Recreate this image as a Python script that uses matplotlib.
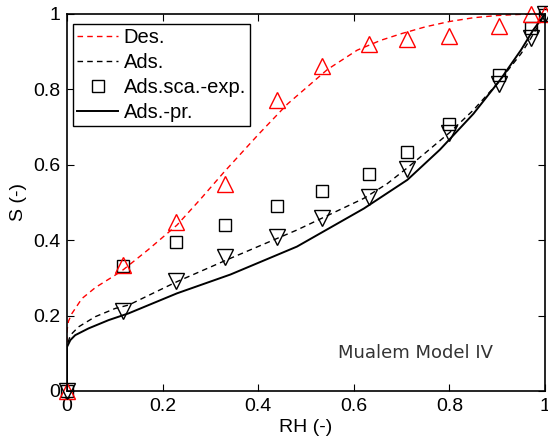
import matplotlib
matplotlib.use("Agg")
import matplotlib.pyplot as plt

# measured points (RH, S)
rh_exp = [0, 0.118, 0.228, 0.33, 0.44, 0.533, 0.632, 0.712, 0.8, 0.903, 0.97, 1.0]
s_des_exp = [0, 0.334, 0.449, 0.548, 0.772, 0.862, 0.92, 0.933, 0.942, 0.968, 1.0, 1.0]
s_ads_sca_exp = [0, 0.332, 0.395, 0.44, 0.491, 0.530, 0.576, 0.633, 0.708, 0.838, 0.962, 0.997]
s_ads_exp = [0, 0.213, 0.293, 0.355, 0.409, 0.458, 0.515, 0.59, 0.683, 0.813, 0.937, 1.0]

# model curves
rh_des = [0, 0, 0.003, 0.01, 0.031, 0.06, 0.098, 0.118, 0.17, 0.23, 0.28, 0.328,
          0.4, 0.461, 0.545, 0.607, 0.656, 0.7, 0.75, 0.8, 0.85, 0.9, 0.95, 1.0]
s_des = [0, 0.16, 0.185, 0.205, 0.245, 0.275, 0.305, 0.322, 0.375, 0.44, 0.51, 0.58,
         0.68, 0.761, 0.853, 0.904, 0.93, 0.948, 0.966, 0.98, 0.99, 0.996, 0.999, 1.0]

rh_ads = [0, 0, 0.007, 0.024, 0.059, 0.101, 0.129, 0.23, 0.342, 0.481, 0.621,
          0.67, 0.71, 0.75, 0.8, 0.85, 0.9, 0.95, 0.97, 1.0]
s_ads = [0, 0.12, 0.148, 0.17, 0.197, 0.219, 0.228, 0.29, 0.352, 0.427, 0.511,
         0.55, 0.59, 0.632, 0.685, 0.745, 0.815, 0.895, 0.935, 1.0]

rh_pr = [0, 0, 0.007, 0.017, 0.045, 0.087, 0.129, 0.23, 0.342, 0.481, 0.621,
         0.712, 0.78, 0.85, 0.906, 0.95, 0.975, 1.0]
s_pr = [0, 0.117, 0.135, 0.148, 0.166, 0.188, 0.206, 0.259, 0.309, 0.383, 0.484,
        0.56, 0.64, 0.735, 0.825, 0.905, 0.957, 1.0]

plt.rcParams['font.family'] = ['Liberation Sans', 'DejaVu Sans']
plt.rcParams['font.size'] = 14

fig = plt.figure(figsize=(5.48, 4.41), dpi=100)
ax = fig.add_axes([0.1223, 0.1134, 0.8723, 0.8549])

ax.plot(rh_des, s_des, color='red', lw=1.0, dashes=(4, 3), label='Des.')
ax.plot(rh_ads, s_ads, color='black', lw=1.0, dashes=(4, 3), label='Ads.')
ax.plot(rh_exp, s_ads_sca_exp, 's', ms=8, mfc='none', mec='black', mew=1.0,
        clip_on=False, label='Ads.sca.-exp.')
ax.plot(rh_pr, s_pr, color='black', lw=1.4, label='Ads.-pr.')
ax.plot(rh_exp, s_des_exp, '^', ms=11, mfc='none', mec='red', mew=1.0, clip_on=False)
ax.plot(rh_exp, s_ads_exp, 'v', ms=11, mfc='none', mec='black', mew=1.0, clip_on=False)

ax.set_xlim(0, 1)
ax.set_ylim(0, 1)
ax.set_xticks([0, 0.2, 0.4, 0.6, 0.8, 1])
ax.set_yticks([0, 0.2, 0.4, 0.6, 0.8, 1])
ax.set_xticklabels(['0', '0.2', '0.4', '0.6', '0.8', '1'])
ax.set_yticklabels(['0', '0.2', '0.4', '0.6', '0.8', '1'])
ax.tick_params(direction='in', top=True, right=True, length=5, width=0.8, pad=5)
for sp in ax.spines.values():
    sp.set_linewidth(1.2)

ax.set_xlabel('RH (-)', labelpad=3)
ax.set_ylabel('S (-)', labelpad=4)

ax.text(0.73, 0.1, 'Mualem Model IV', color='#333333', fontsize=13,
        family='DejaVu Sans', ha='center', va='center')

leg = ax.legend(loc='upper left', bbox_to_anchor=(0.005, 0.985), fancybox=False,
                framealpha=1, edgecolor='black', handlelength=2.0,
                handletextpad=0.3, labelspacing=0.3, borderpad=0.2,
                borderaxespad=0.2, fontsize=14.5)
leg.get_frame().set_linewidth(1.0)

fig.savefig('out.png', dpi=100)
